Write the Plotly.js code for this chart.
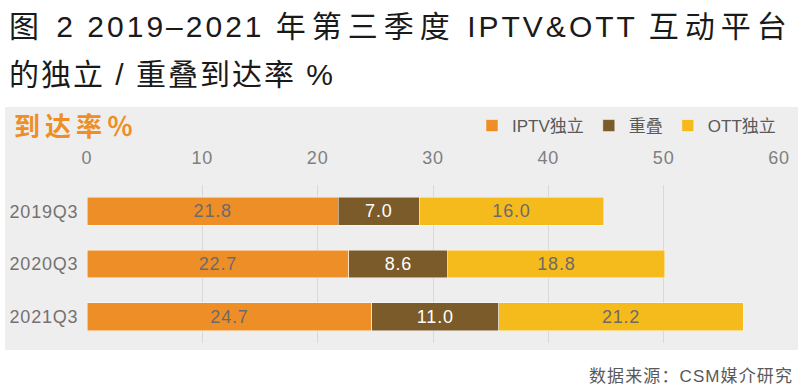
<!DOCTYPE html>
<html><head><meta charset="utf-8">
<script src="https://cdn.plot.ly/plotly-3.0.1.min.js"></script>
<style>body{margin:0;background:#fff}#c{width:800px;height:387px}
.xtick text,.ytick text,text.bartext{letter-spacing:0.8px}
</style>
</head><body><div id="c"></div>
<script>
const categories = ['2019Q3', '2020Q3', '2021Q3'];
const seriesNames = ['IPTV独立', '重叠', 'OTT独立'];
const iptvOnly = [21.8, 22.7, 24.7];
const overlap = [7.0, 8.6, 11.0];
const ottOnly = [16.0, 18.8, 21.2];
const xTicks = [0, 10, 20, 30, 40, 50, 60];

const colors = ['#EE8E27', '#7B5B29', '#F5BA1C'];
const labelColors = ['#6E6A6A', '#FFFFFF', '#6E6A6A'];
const font = '"Liberation Sans", "Noto Sans CJK SC", sans-serif';

const mk = (vals, i) => ({
  type: 'bar', orientation: 'h', name: seriesNames[i],
  y: categories, x: vals,
  text: vals.map(v => v.toFixed(1)), textposition: 'inside', insidetextanchor: 'middle', textangle: 0,
  textfont: {family: font, size: 18, color: labelColors[i]},
  marker: {color: colors[i], line: {color: 'rgba(255,255,255,0.6)', width: 0.8}},
  hoverinfo: 'x+name'
});

const data = [mk(iptvOnly, 0), mk(overlap, 1), mk(ottOnly, 2)];

const L = 87, R = 779, T = 185, B = 343;
const px = x => (x - L) / (R - L);
const py = y => (B - y) / (B - T);
const cj = s => '<span style="letter-spacing:6px">' + s + '</span>';
const la = s => '<span style="letter-spacing:3px">' + s + '</span>';

const layout = {
  width: 800, height: 387,
  margin: {l: L, r: 800 - R, t: T, b: 387 - B},
  paper_bgcolor: '#FFFFFF', plot_bgcolor: 'rgba(0,0,0,0)',
  barmode: 'stack', bargap: 0.47,
  showlegend: true,
  legend: {orientation: 'h', x: px(472), xanchor: 'left', y: py(126), yanchor: 'middle', traceorder: 'normal',
    font: {family: font, size: 17, color: '#595959'}, bgcolor: 'rgba(0,0,0,0)',
    itemwidth: 30, tracegroupgap: 0},
  xaxis: {side: 'top', range: [0, 60], tickvals: xTicks, ticktext: xTicks.map(String),
    showgrid: true, gridcolor: '#D9D9D9', gridwidth: 1, zeroline: false,
    ticks: 'outside', ticklen: 13, tickcolor: 'rgba(0,0,0,0)',
    tickfont: {family: font, size: 18, color: '#7F7F7F'}, showline: false, fixedrange: true},
  yaxis: {autorange: 'reversed', tickfont: {family: font, size: 18, color: '#767171'},
    showgrid: false, zeroline: false, showline: false, ticks: 'outside', ticklen: 4, tickcolor: 'rgba(0,0,0,0)'},
  shapes: [{type: 'rect', xref: 'paper', yref: 'paper', x0: px(5), x1: px(798), y0: py(350), y1: py(107),
    fillcolor: '#EEEEEE', line: {width: 0}, layer: 'below'}],
  annotations: [
    {text: cj('图') + la(' 2 2019–2021 ') + cj('年第三季度') + la(' IPTV&OTT ') + cj('互动平台'),
      xref: 'paper', yref: 'paper', x: px(7), y: py(26),
      xanchor: 'left', yanchor: 'middle', showarrow: false, font: {family: font, size: 30, color: '#1A1A1A'}},
    {text: '<span style="letter-spacing:2px">的独立 / 重叠到达率 %</span>', xref: 'paper', yref: 'paper', x: px(7), y: py(74),
      xanchor: 'left', yanchor: 'middle', showarrow: false, font: {family: font, size: 30, color: '#1A1A1A'}},
    {text: '<b><span style="letter-spacing:5px">到达率％</span></b>', xref: 'paper', yref: 'paper', x: px(12), y: py(124),
      xanchor: 'left', yanchor: 'middle', showarrow: false, font: {family: '"Noto Sans CJK SC", sans-serif', size: 26, color: '#EE8E27'}},
    {text: '<span style="letter-spacing:1.1px">数据来源：CSM媒介研究</span>', xref: 'paper', yref: 'paper', x: px(587), y: py(376),
      xanchor: 'left', yanchor: 'middle', showarrow: false, font: {family: font, size: 17, color: '#595959'}}
  ]
};

Plotly.newPlot('c', data, layout, {displayModeBar: false, staticPlot: true});
</script></body></html>
